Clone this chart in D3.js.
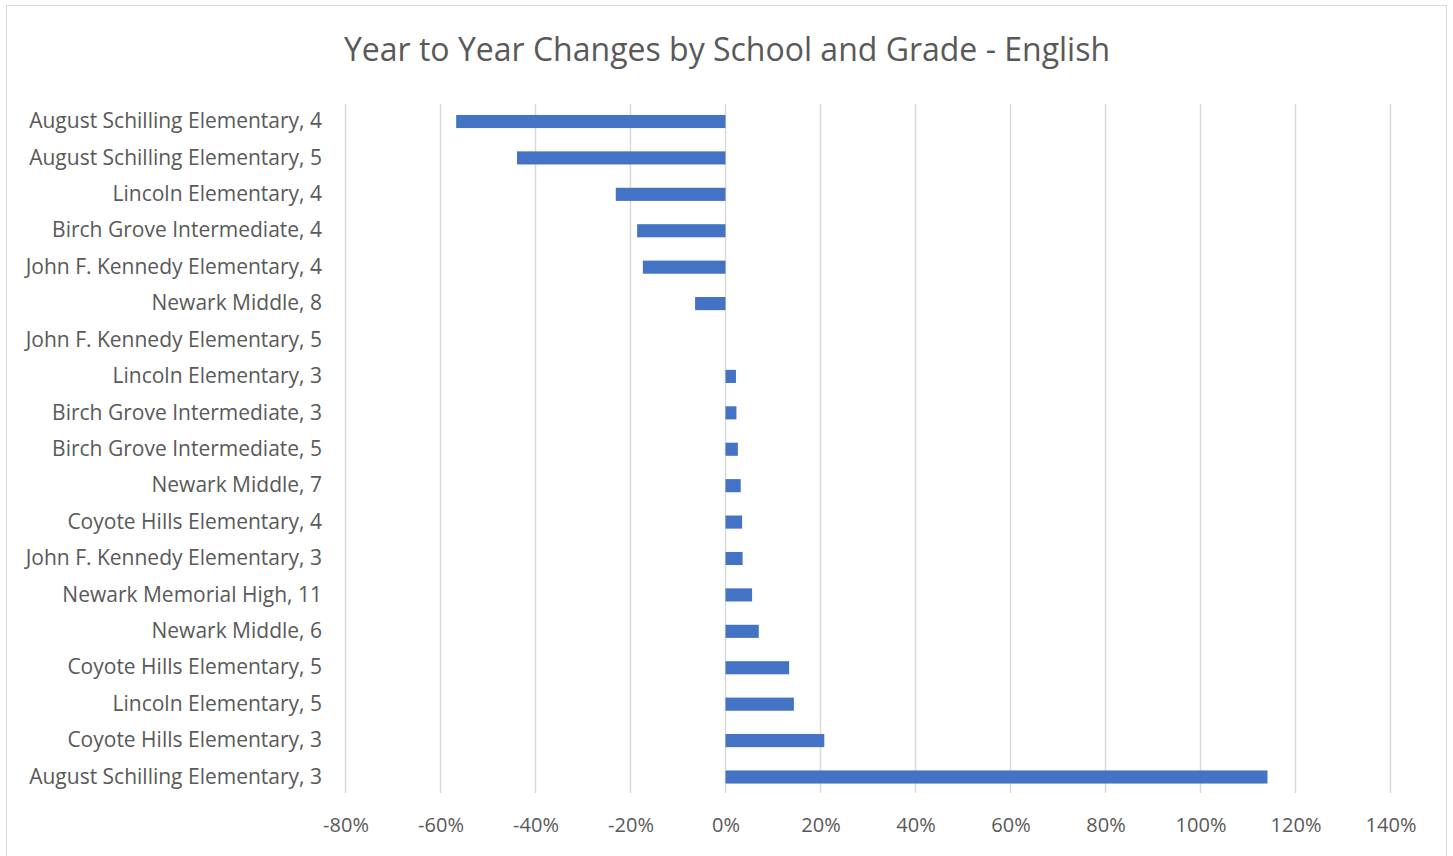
<!DOCTYPE html>
<html>
<head>
<meta charset="utf-8">
<script src="https://cdn.jsdelivr.net/npm/d3@7"></script>
<style>
  body { margin: 0; background: #fff; }
  text { font-family: "Open Sans", "Noto Sans", sans-serif; fill: #595959; }
</style>
</head>
<body>
<div id="chart"></div>
<script>
// categories, top to bottom
var schools = [
    "August Schilling Elementary, 4",
    "August Schilling Elementary, 5",
    "Lincoln Elementary, 4",
    "Birch Grove Intermediate, 4",
    "John F. Kennedy Elementary, 4",
    "Newark Middle, 8",
    "John F. Kennedy Elementary, 5",
    "Lincoln Elementary, 3",
    "Birch Grove Intermediate, 3",
    "Birch Grove Intermediate, 5",
    "Newark Middle, 7",
    "Coyote Hills Elementary, 4",
    "John F. Kennedy Elementary, 3",
    "Newark Memorial High, 11",
    "Newark Middle, 6",
    "Coyote Hills Elementary, 5",
    "Lincoln Elementary, 5",
    "Coyote Hills Elementary, 3",
    "August Schilling Elementary, 3"
];
var changes = [-0.567, -0.439, -0.231, -0.186, -0.174, -0.064, 0, 0.022, 0.023, 0.026,
    0.032, 0.035, 0.036, 0.056, 0.070, 0.134, 0.144, 0.208, 1.141];
var xTicks = [-0.8, -0.6, -0.4, -0.2, 0, 0.2, 0.4, 0.6, 0.8, 1.0, 1.2, 1.4];

var data = schools.map(function(s, i) { return {name: s, value: changes[i]}; });

var width = 1453, height = 856;
var svg = d3.select("#chart").append("svg")
    .attr("width", width)
    .attr("height", height);

// chart border
svg.append("rect")
    .attr("x", 6.5).attr("y", 5.5)
    .attr("width", 1440).attr("height", 860)
    .attr("fill", "none")
    .attr("stroke", "#d9d9d9");

svg.append("text")
    .attr("x", 727).attr("y", 61)
    .attr("text-anchor", "middle")
    .attr("font-size", "32px")
    .text("Year to Year Changes by School and Grade - English");

var x = d3.scaleLinear().domain([-0.8, 1.4]).range([345.5, 1390.5]);
var y = d3.scaleBand().domain(schools).range([103.3, 795.2]).paddingInner(0.64).paddingOuter(0.32);

// gridlines
svg.append("g")
    .selectAll("line")
    .data(xTicks)
    .join("line")
    .attr("x1", function(d) { return x(d); })
    .attr("x2", function(d) { return x(d); })
    .attr("y1", 104).attr("y2", 793)
    .attr("stroke", "#d9d9d9")
    .attr("stroke-width", 1.5);

svg.append("g")
    .selectAll("rect")
    .data(data)
    .join("rect")
    .attr("x", function(d) { return x(Math.min(0, d.value)); })
    .attr("y", function(d) { return y(d.name); })
    .attr("width", function(d) { return Math.abs(x(d.value) - x(0)); })
    .attr("height", y.bandwidth())
    .attr("fill", "#4472c4");

// x axis labels (plain hyphen like the original)
var pct = function(d) { return Math.round(d * 100) + "%"; };
var xAxis = d3.axisBottom(x).tickValues(xTicks).tickFormat(pct).tickSize(0).tickPadding(0);
var gx = svg.append("g").attr("transform", "translate(0,818)").call(xAxis);
gx.select(".domain").remove();
gx.selectAll("text").attr("font-size", "20px").attr("dy", "0.71em").attr("fill", "#595959")
    .style("font-family", "'Open Sans', 'Noto Sans', sans-serif");

// category labels
var yAxis = d3.axisLeft(y).tickSize(0).tickPadding(0);
var gy = svg.append("g").attr("transform", "translate(322,0)").call(yAxis);
gy.select(".domain").remove();
gy.selectAll("text").attr("font-size", "21px").attr("fill", "#595959")
    .style("font-family", "'Open Sans', 'Noto Sans', sans-serif");
</script>
</body>
</html>
